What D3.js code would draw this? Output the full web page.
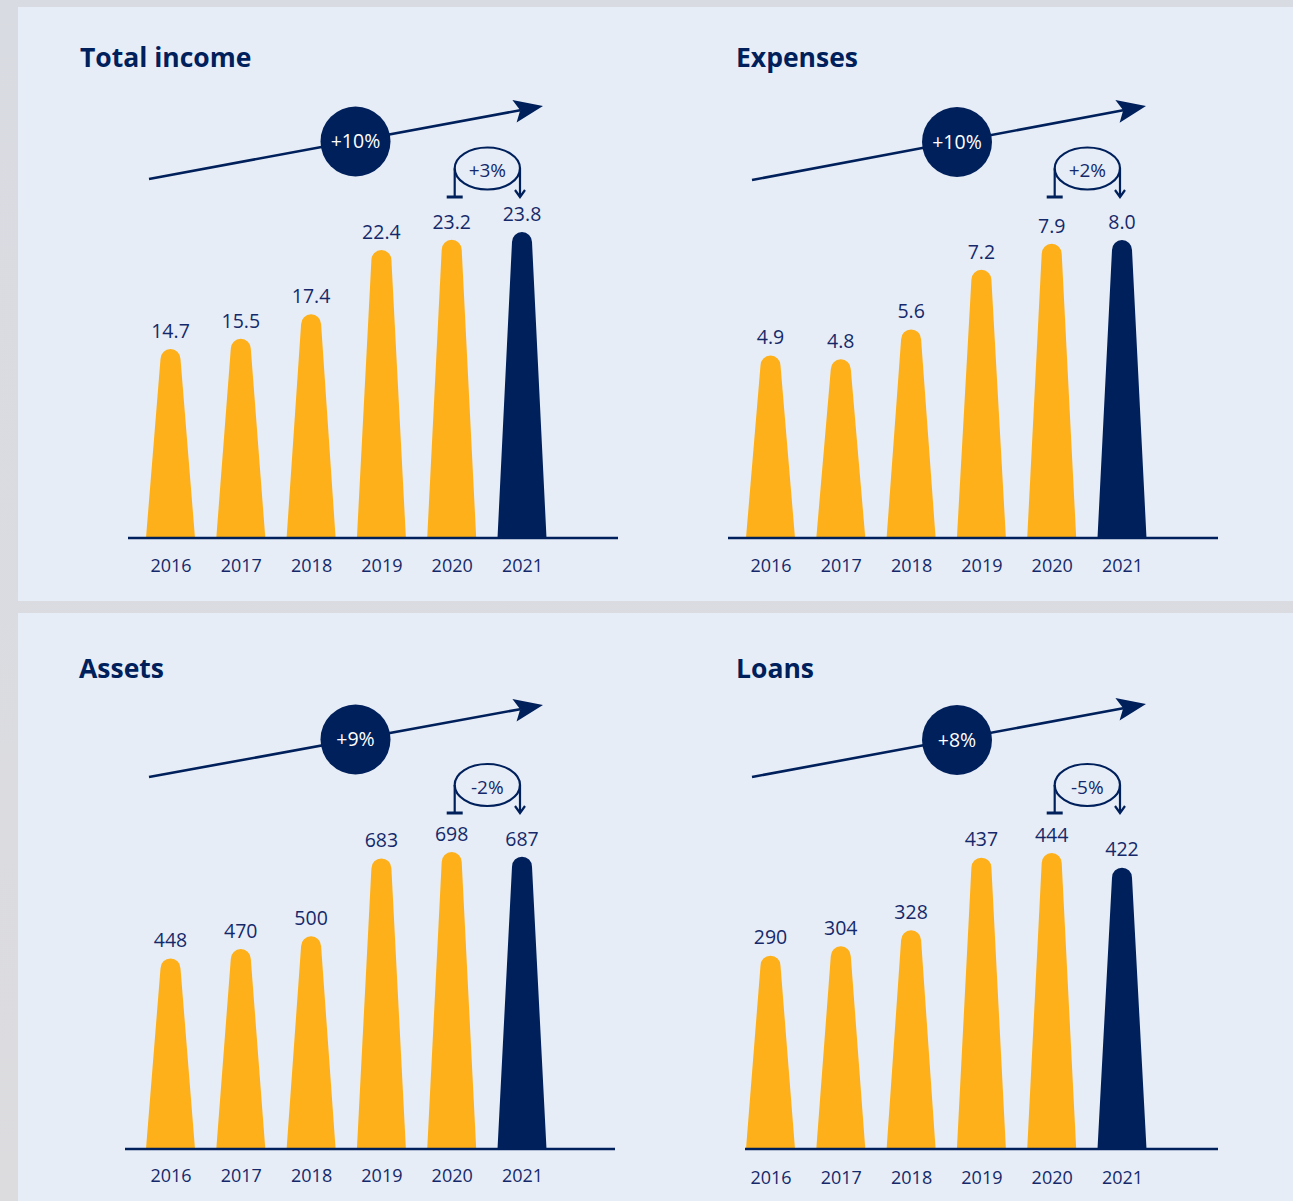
<!DOCTYPE html>
<html><head><meta charset="utf-8">
<script src="https://cdn.jsdelivr.net/npm/d3@7"></script>
<style>
body{margin:0;background:#dcdee4;}
svg{display:block;font-family:"Open Sans",sans-serif;}
</style></head>
<body><svg id="c" width="1293" height="1201"></svg>
<script>
// ---- data ----
const categories = ['2016','2017','2018','2019','2020','2021'];
const incomeValues   = [14.7, 15.5, 17.4, 22.4, 23.2, 23.8];
const expenseValues  = [4.9, 4.8, 5.6, 7.2, 7.9, 8.0];
const assetValues    = [448, 470, 500, 683, 698, 687];
const loanValues     = [290, 304, 328, 437, 444, 422];
const panelTitles    = ['Total income', 'Expenses', 'Assets', 'Loans'];
const growthLabels   = ['+10%', '+10%', '+9%', '+8%'];
const changeLabels   = ['+3%', '+2%', '-2%', '-5%'];
const labelDecimals  = [1, 1, 0, 0];

// ---- layout (styles/positions) ----
const NAVY = '#00205b', YELLOW = '#fdb01a', TEXT = '#15296a', PANEL = '#e6edf7';
const panels = [
  {values: incomeValues,  dx: 0,   titleX: 80,  titleY: 67,  base: 538,  H: 306, axisX: [128, 618], yearY: 566,
   arrow: [[149,179],[543,106]], circle: [355.5,141.5], loopY: 168.5, teeY: 197},
  {values: expenseValues, dx: 600, titleX: 736, titleY: 67,  base: 538,  H: 298, axisX: [728, 1218], yearY: 566,
   arrow: [[752,180],[1146,106]], circle: [957,142], loopY: 168.5, teeY: 197},
  {values: assetValues,   dx: 0,   titleX: 79,  titleY: 678, base: 1149, H: 297, axisX: [125, 615], yearY: 1176,
   arrow: [[149,777],[543,705]], circle: [355.5,739.5], loopY: 785, teeY: 813},
  {values: loanValues,    dx: 600, titleX: 736, titleY: 678, base: 1149, H: 296, axisX: [745, 1218], yearY: 1178,
   arrow: [[752,777],[1146,704]], circle: [957,740], loopY: 785, teeY: 813}
];

const svg = d3.select('#c');

const defs = svg.append('defs');
const g1 = defs.append('linearGradient').attr('id','bg').attr('x1',0).attr('x2',0).attr('y1',0).attr('y2',1);
g1.append('stop').attr('offset',0).attr('stop-color','#d9dbe2');
g1.append('stop').attr('offset',1).attr('stop-color','#dcdcdf');
svg.append('rect').attr('width',1293).attr('height',1201).attr('fill','url(#bg)');
svg.append('rect').attr('x',18).attr('y',7).attr('width',1275).attr('height',594).attr('fill',PANEL);
svg.append('rect').attr('x',18).attr('y',613).attr('width',1275).attr('height',588).attr('fill',PANEL);

panels.forEach((p, i) => {
  const g = svg.append('g');
  const x = d3.scalePoint().domain(categories).range([170.5 + p.dx, 522 + p.dx]);
  const y = d3.scaleLinear().domain([0, d3.max(p.values)]).range([p.base, p.base - p.H]);
  const fmt = d3.format('.' + labelDecimals[i] + 'f');

  // title
  g.append('text').attr('x', p.titleX).attr('y', p.titleY).text(panelTitles[i])
    .attr('font-size', 26.5).attr('font-weight', 700).attr('fill', NAVY);

  // bars (tapered with rounded top)
  const bw = 24.5, tr = 10;
  g.selectAll('path.bar').data(p.values).join('path').attr('class','bar')
    .attr('d', (d, j) => {
      const cx = x(categories[j]), top = y(d);
      return `M${cx - bw},${p.base} L${cx - tr},${top + tr} A${tr},${tr} 0 0 1 ${cx + tr},${top + tr} L${cx + bw},${p.base} Z`;
    })
    .attr('fill', (d, j) => j === categories.length - 1 ? NAVY : YELLOW);

  // value labels
  g.selectAll('text.val').data(p.values).join('text').attr('class','val')
    .attr('x', (d, j) => x(categories[j])).attr('y', d => y(d) - 18).attr('dy', '0.35em')
    .attr('text-anchor', 'middle').attr('font-size', 19.5).attr('fill', TEXT).text(d => fmt(d));

  // axis
  const axis = d3.axisBottom(x).tickSize(0).tickPadding(0);
  const ax = g.append('g').attr('transform', `translate(0,${p.yearY})`).call(axis);
  ax.select('.domain').remove();
  ax.selectAll('text').attr('font-size', 18).attr('fill', TEXT).attr('dy', '0.35em')
    .attr('font-family', '"Open Sans",sans-serif');
  g.append('line').attr('x1', p.axisX[0]).attr('x2', p.axisX[1]).attr('y1', p.base).attr('y2', p.base)
    .attr('stroke', NAVY).attr('stroke-width', 2.5);

  // big growth arrow
  const [sx, sy] = p.arrow[0], [ex, ey] = p.arrow[1];
  const ang = Math.atan2(ey - sy, ex - sx), L = 29, W = 11.5;
  const bx = ex - L * Math.cos(ang), by = ey - L * Math.sin(ang);
  const nx = -Math.sin(ang), ny = Math.cos(ang);
  const ix = ex - 0.8 * L * Math.cos(ang), iy = ey - 0.8 * L * Math.sin(ang);
  g.append('line').attr('x1', sx).attr('y1', sy).attr('x2', ix).attr('y2', iy)
    .attr('stroke', NAVY).attr('stroke-width', 2.6);
  g.append('path').attr('d', `M${ex},${ey} L${bx + nx * W},${by + ny * W} L${ix},${iy} L${bx - nx * W},${by - ny * W} Z`).attr('fill', NAVY);

  g.append('circle').attr('cx', p.circle[0]).attr('cy', p.circle[1]).attr('r', 35).attr('fill', NAVY);
  g.append('text').attr('x', p.circle[0]).attr('y', p.circle[1]).attr('dy', '0.35em').attr('text-anchor', 'middle')
    .attr('font-size', 19.5).attr('fill', '#ffffff').text(growthLabels[i]);

  // year-on-year loop annotation
  const lx = x(categories[4]) + 3, rx = x(categories[5]) - 2;
  const ecx = (lx + rx) / 2, erx = (rx - lx) / 2;
  const lg = g.append('g').attr('fill', 'none').attr('stroke', NAVY);
  lg.append('ellipse').attr('cx', ecx).attr('cy', p.loopY).attr('rx', erx).attr('ry', 21).attr('stroke-width', 2.2);
  lg.append('line').attr('x1', lx).attr('x2', lx).attr('y1', p.loopY).attr('y2', p.teeY).attr('stroke-width', 2.2);
  lg.append('line').attr('x1', lx - 8).attr('x2', lx + 8).attr('y1', p.teeY).attr('y2', p.teeY).attr('stroke-width', 3);
  lg.append('line').attr('x1', rx).attr('x2', rx).attr('y1', p.loopY).attr('y2', p.teeY).attr('stroke-width', 2.2);
  lg.append('path').attr('d', `M${rx - 5},${p.teeY - 7} L${rx},${p.teeY} L${rx + 5},${p.teeY - 7}`).attr('stroke-width', 2.2);
  g.append('text').attr('x', ecx).attr('y', p.loopY + 2).attr('dy', '0.35em').attr('text-anchor', 'middle')
    .attr('font-size', 19).attr('fill', TEXT).text(changeLabels[i]);
});
</script></body></html>
